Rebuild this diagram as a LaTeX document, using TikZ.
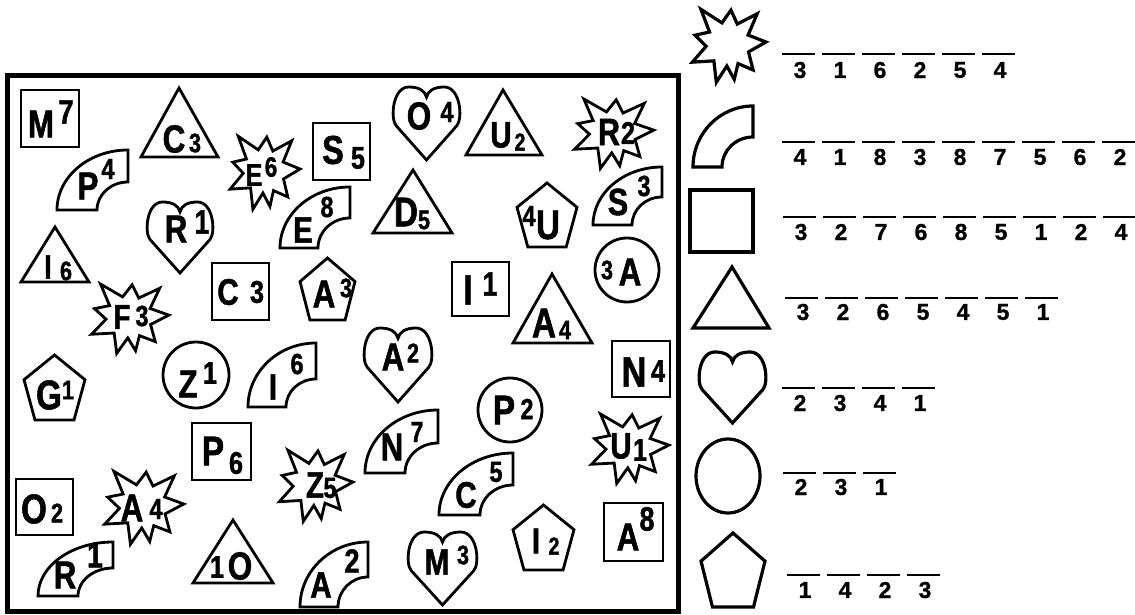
\documentclass[tikz,border=0pt]{standalone}
\usepackage{fontspec}
\newfontfamily\cond[FakeStretch=0.8, BoldFeatures={FakeBold=1.3}]{Liberation Sans}
\newfontfamily\digf[BoldFeatures={FakeBold=1}]{Liberation Sans}
\tikzset{
  shp/.style={draw=black, line width=2.8pt, line join=miter},
  lshp/.style={draw=black, line width=3.2pt, line join=miter},
  frm/.style={draw=black, line width=5pt},
  dsh/.style={draw=black, line width=1.5pt},
  lt/.style={font=\cond\bfseries\fontsize{\fpeval{#1*1.12}}{\fpeval{#1*1.12}}\selectfont, inner sep=0pt},
  dg/.style={font=\digf\bfseries\fontsize{23}{23}\selectfont, inner sep=0pt},
}
\newcommand\sqshape[5][shp]{\draw[#1] (#2,#3) rectangle (#4,#5);}
\newcommand\trishape[6][shp]{\draw[#1] (#2,#3) -- (#5,#6) -- (#4,#6) -- cycle;}
\newcommand\pentshape[5][shp]{\draw[#1] ({(#2+#4)/2},#3) -- (#4,{#3+0.38*(#5-#3)}) -- ({#4-0.18*(#4-#2)},#5) -- ({#2+0.18*(#4-#2)},#5) -- (#2,{#3+0.38*(#5-#3)}) -- cycle;}
\newcommand\arcshape[7][shp]{\draw[#1] ({#2-#4},#3) .. controls ({#2-#4},{#3-0.5523*#5}) and ({#2-0.5523*#4},{#3-#5}) .. (#2,{#3-#5}) -- (#2,{#3-#7}) .. controls ({#2-0.5523*#6},{#3-#7}) and ({#2-#6},{#3-0.5523*#7}) .. ({#2-#6},#3) -- cycle;}
\newcommand\starshape[5][shp]{\draw[#1] ({#2+#4*1.1*cos(-128)},{#3+#5*1.1*sin(-128)}) \foreach \a/\r in {-106/0.55,-85/0.85,-65/0.55,-46/1.05,-24/0.55,-3/0.95,21/0.55,46/0.9,63/0.55,80/0.9,93/0.55,107/1.0,130/0.55,153/1.0,174/0.55,195/0.85,213/0.55} {-- ({#2+#4*\r*cos(\a)},{#3+#5*\r*sin(\a)})} -- cycle;}
\newcommand\heartshape[5][shp]{%
  \pgfmathsetmacro\hx{(#2+#4)/2}%
  \pgfmathsetmacro\hw{(#4-#2)/1.9}%
  \pgfmathsetmacro\hh{#5-#3}%
  \draw[#1] (\hx,#5) -- ({\hx-0.86*\hw},{#3+0.53*\hh}) .. controls ({\hx-1.03*\hw},{#3+0.44*\hh}) and ({\hx-0.97*\hw},{#3}) .. ({\hx-0.5*\hw},{#3}) .. controls ({\hx-0.22*\hw},{#3}) and ({\hx-0.04*\hw},{#3+0.05*\hh}) .. (\hx,{#3+0.14*\hh}) .. controls ({\hx+0.04*\hw},{#3+0.05*\hh}) and ({\hx+0.22*\hw},{#3}) .. ({\hx+0.5*\hw},{#3}) .. controls ({\hx+0.97*\hw},{#3}) and ({\hx+1.03*\hw},{#3+0.44*\hh}) .. ({\hx+0.86*\hw},{#3+0.53*\hh}) -- cycle;}
\newcommand\lbl[5]{\node[lt=#4] (#1) at (#2,#3) {#5};}
\newcommand\legrow[5]{\foreach \d [count=\i from 0] in {#5} {\draw[dsh] ({#2+40*\i},#3) -- ({#2+40*\i+33},#3); \node[dg] (#1\i) at ({#2+40*\i+18},#4) {\d};}}
\begin{document}
\begin{tikzpicture}[x=1pt,y=-1pt]
\useasboundingbox (0,0) rectangle (1135,615);
\fill[white] (0,0) rectangle (1135,615);
% frame
\draw[frm] (7.5,75.5) rectangle (678,611);
% squares
\sqshape{21}{90}{79}{147}
\sqshape{313}{123}{370}{180}
\sqshape{212}{263}{269}{320}
\sqshape{192}{423}{251}{480}
\sqshape{452}{262}{509}{316}
\sqshape{612}{341}{670}{397}
\sqshape{16}{479}{73}{535}
\sqshape{604}{503}{663}{561}
% triangles
\trishape{179}{88}{141}{218}{157}
\trishape{55}{227}{21}{89}{282}
\trishape{503}{90}{466}{542}{155}
\trishape{413}{170}{373}{452}{233}
\trishape{552}{274}{513}{592}{343}
\trishape{233}{520}{193}{273}{583}
% stars
\starshape{264}{171}{38}{40}
\starshape{613}{132}{43}{38}
\starshape{129}{317}{42}{38}
\starshape{629}{447}{42}{38}
\starshape{143}{506}{43}{40}
\starshape{315}{484}{40}{39}
% hearts
\heartshape{147}{202}{213}{273}
\heartshape{393}{87}{460}{160}
\heartshape{364}{328}{432}{402}
\heartshape{408}{532}{477}{605}
% circles
\draw[shp] (627,270) circle [radius=32pt];
\draw[shp] (196,375) circle [radius=33pt];
\draw[shp] (510,410) circle [radius=32pt];
% pentagons
\pentshape{517}{183}{577}{247}
\pentshape{300}{258}{355}{320}
\pentshape{24}{355}{85}{420}
\pentshape{513}{505}{574}{570}
% arcs
\arcshape{128}{210}{71}{60}{31}{28}
\arcshape{350}{248}{70}{61}{32}{30}
\arcshape{662}{225}{69}{58}{30}{28}
\arcshape{316}{407}{68}{64}{30}{28}
\arcshape{438}{473}{73}{63}{33}{30}
\arcshape{513}{515}{74}{62}{33}{30}
\arcshape{113}{596}{75}{54}{35}{28}
\arcshape{368}{607}{68}{65}{30}{30}
% labels
\lbl{m7a}{41}{124}{35}{M} \lbl{m7b}{66}{112}{30}{7}
\lbl{c3a}{174}{139}{35}{C} \lbl{c3b}{195}{143}{24}{3}
\lbl{e6a}{254}{175}{28}{E} \lbl{e6b}{271}{167}{25}{6}
\lbl{s5a}{333}{150}{36}{S} \lbl{s5b}{358}{158}{28}{5}
\lbl{p4a}{88}{186}{35}{P} \lbl{p4b}{108}{169}{26}{4}
\lbl{r1a}{176}{229}{35}{R} \lbl{r1b}{202}{222}{30}{1}
\lbl{e8a}{303}{230}{33}{E} \lbl{e8b}{327}{207}{26}{8}
\lbl{i6a}{48}{267}{30}{I} \lbl{i6b}{66}{271}{24}{6}
\lbl{o4a}{419}{116}{35}{O} \lbl{o4b}{447}{112}{26}{4}
\lbl{u2a}{501}{135}{33}{U} \lbl{u2b}{520}{142}{22}{2}
\lbl{r2a}{609}{132}{34}{R} \lbl{r2b}{628}{133}{28}{2}
\lbl{d5a}{406}{212}{37}{D} \lbl{d5b}{424}{220}{24}{5}
\lbl{u4a}{529}{216}{26}{4} \lbl{u4b}{548}{225}{37}{U}
\lbl{s3a}{618}{202}{34}{S} \lbl{s3b}{644}{186}{26}{3}
\lbl{a3ca}{607}{270}{24}{3} \lbl{a3cb}{630}{272}{35}{A}
\lbl{f3a}{122}{317}{31}{F} \lbl{f3b}{142}{316}{26}{3}
\lbl{c3sa}{228}{292}{33}{C} \lbl{c3sb}{257}{292}{28}{3}
\lbl{a3pa}{324}{294}{35}{A} \lbl{a3pb}{346}{288}{24}{3}
\lbl{g1a}{49}{395}{37}{G} \lbl{g1b}{68}{390}{24}{1}
\lbl{z1a}{188}{384}{35}{Z} \lbl{z1b}{210}{373}{28}{1}
\lbl{i6ra}{273}{387}{33}{I} \lbl{i6rb}{297}{364}{26}{6}
\lbl{p6a}{213}{451}{37}{P} \lbl{p6b}{236}{463}{28}{6}
\lbl{i1a}{468}{290}{38}{I} \lbl{i1b}{490}{284}{30}{1}
\lbl{a4ta}{544}{323}{37}{A} \lbl{a4tb}{565}{330}{24}{4}
\lbl{a2ha}{393}{357}{35}{A} \lbl{a2hb}{413}{353}{24}{2}
\lbl{n4a}{634}{372}{38}{N} \lbl{n4b}{658}{371}{28}{4}
\lbl{p2a}{504}{410}{37}{P} \lbl{p2b}{527}{409}{26}{2}
\lbl{n7a}{392}{447}{35}{N} \lbl{n7b}{417}{432}{26}{7}
\lbl{u1a}{621}{446}{33}{U} \lbl{u1b}{640}{450}{28}{1}
\lbl{o2a}{34}{509}{37}{O} \lbl{o2b}{57}{513}{24}{2}
\lbl{a4sa}{132}{508}{35}{A} \lbl{a4sb}{156}{509}{26}{4}
\lbl{r1ra}{65}{575}{35}{R} \lbl{r1rb}{95}{555}{32}{1}
\lbl{o1a}{217}{567}{28}{1} \lbl{o1b}{240}{566}{35}{O}
\lbl{z5a}{315}{485}{33}{Z} \lbl{z5b}{330}{488}{26}{5}
\lbl{a2ra}{321}{585}{33}{A} \lbl{a2rb}{352}{561}{30}{2}
\lbl{c5a}{466}{495}{33}{C} \lbl{c5b}{496}{472}{26}{5}
\lbl{m3a}{437}{562}{33}{M} \lbl{m3b}{463}{555}{24}{3}
\lbl{i2a}{536}{541}{32}{I} \lbl{i2b}{554}{546}{22}{2}
\lbl{a8a}{628}{537}{35}{A} \lbl{a8b}{647}{519}{30}{8}
% legend shapes
\starshape[lshp]{728}{44}{40}{40}
\arcshape[lshp]{753}{167}{60}{61}{31}{30}
\sqshape[lshp]{690}{190}{753}{252}
\trishape[lshp]{732}{267}{693}{769}{328}
\heartshape[lshp]{699}{352}{766}{423}
\draw[lshp] (728,476) ellipse [x radius=32pt, y radius=37pt];
\pentshape[lshp]{701}{533}{765}{607}
% legend rows
\legrow{ra}{782}{54}{70}{3,1,6,2,5,4}
\legrow{rb}{782}{142}{157}{4,1,8,3,8,7,5,6,2}
\legrow{rc}{783}{217}{232}{3,2,7,6,8,5,1,2,4}
\legrow{rd}{785}{298}{312}{3,2,6,5,4,5,1}
\legrow{re}{782}{388}{403}{2,3,4,1}
\legrow{rf}{783}{473}{487}{2,3,1}
\legrow{rg}{787}{575}{590}{1,4,2,3}
\end{tikzpicture}
\end{document}
